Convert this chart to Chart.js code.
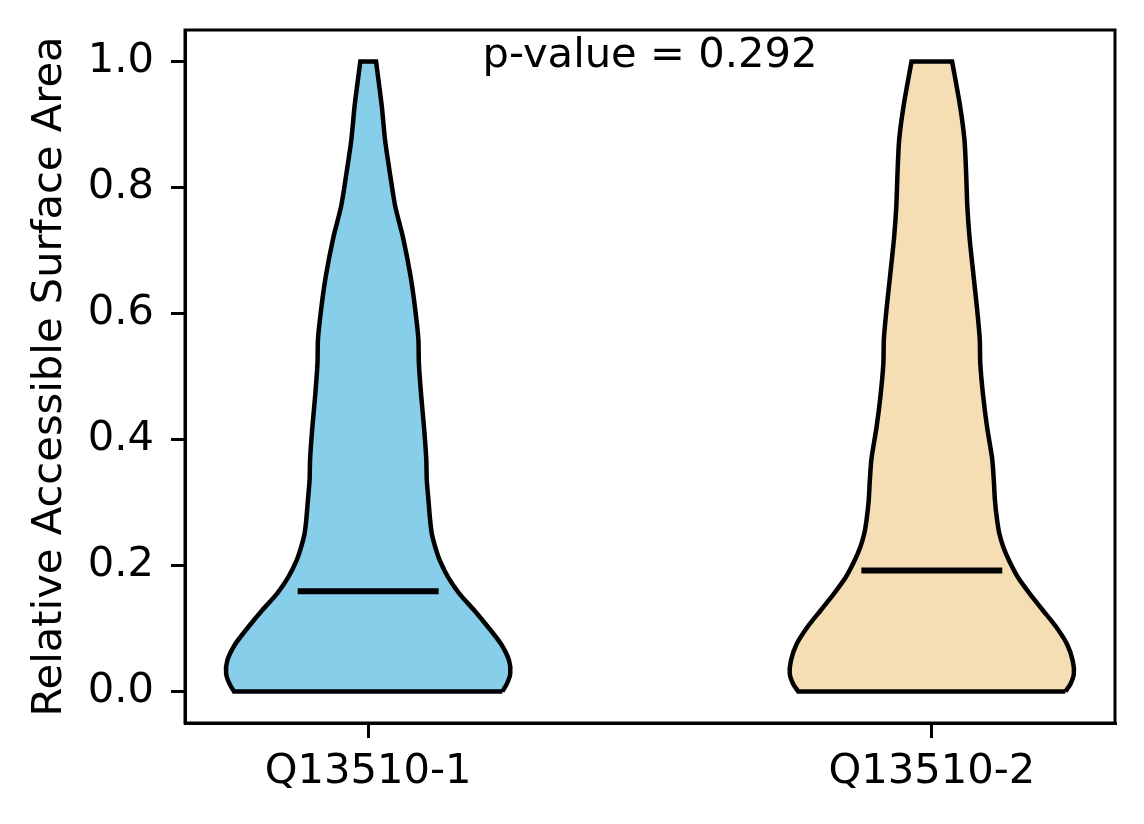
<!DOCTYPE html>
<html>
<head>
<meta charset="utf-8">
<script src="https://cdn.jsdelivr.net/npm/chart.js"></script>
<style>
  body { margin: 0; background: #fff; }
  canvas { display: block; }
</style>
</head>
<body>
<canvas id="chart" width="1144" height="824"></canvas>
<script>
const categories = ["Q13510-1", "Q13510-2"];
const positions = [1, 2];
const violinColors = ["#87CEEB", "#F5DEB3"];
const medians = [0.159, 0.192];
const pValueText = "p-value = 0.292";
const yTicks = [0, 0.2, 0.4, 0.6, 0.8, 1.0];

// y levels at which the violin outlines were read
const levels = [0, 0.012, 0.028, 0.049, 0.075, 0.102, 0.129, 0.155, 0.181, 0.208,
  0.229, 0.25, 0.271, 0.303, 0.335, 0.37, 0.42, 0.47, 0.52, 0.56,
  0.61, 0.66, 0.72, 0.77, 0.82, 0.875, 0.93, 1.0];
// half widths (x units) of each violin at those levels
const halfWidth1 = [0.238, 0.246, 0.252, 0.250, 0.236, 0.213, 0.188, 0.162, 0.142, 0.127,
  0.119, 0.113, 0.110, 0.107, 0.104, 0.103, 0.099, 0.094, 0.090, 0.089,
  0.083, 0.075, 0.062, 0.048, 0.039, 0.030, 0.024, 0.014];
const halfWidth2 = [0.237, 0.246, 0.252, 0.250, 0.240, 0.221, 0.197, 0.174, 0.153, 0.137,
  0.127, 0.120, 0.116, 0.112, 0.110, 0.107, 0.098, 0.091, 0.086, 0.085,
  0.080, 0.074, 0.067, 0.063, 0.061, 0.058, 0.050, 0.036];
const medianHalfLen = 0.125;

const FONT = "'DejaVu Sans', sans-serif";
const FS = 41.67;
Chart.defaults.color = "#000";
Chart.defaults.font.family = FONT;
Chart.defaults.font.size = FS;

function outline(pos, hw) {
  // right side going up, then left side going down, closed.
  // corner points are doubled so the spline keeps them sharp
  const right = levels.map((y, i) => ({ x: pos + hw[i], y }));
  const left = levels.map((y, i) => ({ x: pos - hw[i], y })).reverse();
  const n = right.length;
  return [right[0], ...right, right[n - 1], left[0], ...left, left[n - 1], right[0], right[0]];
}

const widthsList = [halfWidth1, halfWidth2];
const datasets = [];
positions.forEach((pos, i) => {
  datasets.push({
    data: outline(pos, widthsList[i]),
    showLine: true,
    fill: "shape",
    backgroundColor: violinColors[i],
    borderColor: "#000",
    borderWidth: 4.5,
    pointRadius: 0,
    tension: 0.25,
    order: 2,
  });
});
positions.forEach((pos, i) => {
  datasets.push({
    data: [
      { x: pos - medianHalfLen, y: medians[i] },
      { x: pos + medianHalfLen, y: medians[i] },
    ],
    showLine: true,
    borderColor: "#000",
    borderWidth: 6,
    pointRadius: 0,
    borderCapStyle: "butt",
    order: 1,
  });
});

const frame = {
  id: "frame",
  afterDraw(chart) {
    const { ctx, chartArea: a } = chart;
    ctx.save();
    ctx.strokeStyle = "#000";
    ctx.lineWidth = 3;
    ctx.strokeRect(a.left, a.top, a.right - a.left, a.bottom - a.top);
    ctx.font = FS + "px " + FONT;
    ctx.fillStyle = "#000";
    ctx.textAlign = "center";
    ctx.textBaseline = "alphabetic";
    ctx.fillText(pValueText, (a.left + a.right) / 2, a.top + 37);
    ctx.restore();
  },
};

new Chart(document.getElementById("chart"), {
  type: "scatter",
  data: { datasets },
  options: {
    responsive: false,
    animation: false,
    devicePixelRatio: 1,
    layout: { padding: { top: 30, right: 29, left: 0, bottom: 0 } },
    plugins: { legend: { display: false }, tooltip: { enabled: false } },
    scales: {
      x: {
        type: "linear",
        min: 0.675,
        max: 2.325,
        afterBuildTicks: (s) => { s.ticks = positions.map((v) => ({ value: v })); },
        afterFit: (s) => { s.height = 101; s.paddingLeft = 0; s.paddingRight = 0; },
        grid: { drawOnChartArea: false, drawTicks: true, tickLength: 15, color: "#000", lineWidth: 3 },
        border: { display: true, color: "#000", width: 3 },
        ticks: {
          autoSkip: false,
          maxRotation: 0,
          padding: 9,
          callback: (v) => categories[positions.indexOf(v)] ?? "",
        },
      },
      y: {
        type: "linear",
        min: -0.05,
        max: 1.05,
        afterBuildTicks: (s) => { s.ticks = yTicks.map((v) => ({ value: v })); },
        afterFit: (s) => { s.width = 185; s.paddingTop = 0; s.paddingBottom = 0; },
        grid: { drawOnChartArea: false, drawTicks: true, tickLength: 14, color: "#000", lineWidth: 3 },
        border: { display: true, color: "#000", width: 3 },
        ticks: {
          padding: 17,
          callback: (v) => v.toFixed(1),
        },
        title: {
          display: true,
          text: "Relative Accessible Surface Area",
          padding: { top: 25, bottom: 0 },
        },
      },
    },
  },
  plugins: [frame],
});
</script>
</body>
</html>
